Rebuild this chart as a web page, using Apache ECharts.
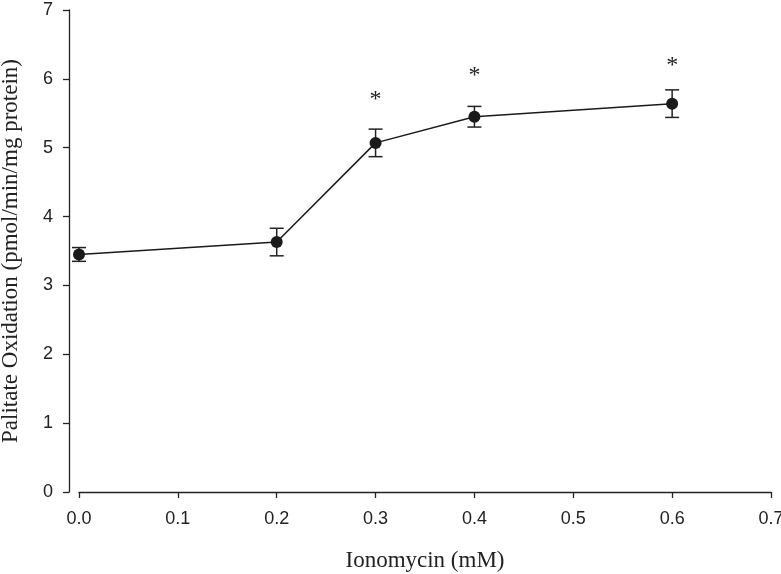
<!DOCTYPE html>
<html><head><meta charset="utf-8">
<script src="https://cdn.jsdelivr.net/npm/echarts@6/dist/echarts.min.js"></script>
<style>html,body{margin:0;padding:0;background:#fff}#c{width:781px;height:574px}</style>
</head><body><div id="c"></div>
<script>
var xValues = [0.0, 0.2, 0.3, 0.4, 0.6];
var meanValues = [3.45, 3.63, 5.07, 5.45, 5.64];
var errValues = [0.1, 0.2, 0.2, 0.15, 0.2];
var starX = [0.3, 0.4, 0.6];
var starY = [5.70, 6.05, 6.19];
var xTicks = ['0.0','0.1','0.2','0.3','0.4','0.5','0.6','0.7'];

var lineData = xValues.map(function(x,i){return [x, meanValues[i]];});
var errData = xValues.map(function(x,i){return [x, meanValues[i]-errValues[i], meanValues[i]+errValues[i]];});
var starData = starX.map(function(x,i){return [x, starY[i]];});

var chart = echarts.init(document.getElementById('c'), null, {renderer:'canvas'});
var sans = 'Liberation Sans';
var serif = 'Liberation Serif';
chart.setOption({
  animation:false,
  backgroundColor:'#fff',
  grid:{left:79, right:10, top:10, bottom:82, containLabel:false, outerBoundsMode:'none'},
  xAxis:{type:'value', min:0, max:0.7, interval:0.1,
    name:'Ionomycin (mM)', nameLocation:'middle', nameGap:57, nameMoveOverlap:false,
    nameTextStyle:{fontFamily:serif, fontSize:23, color:'#222'},
    axisLine:{show:true, onZero:false, lineStyle:{color:'#222', width:1.3}},
    axisTick:{show:true, length:6, lineStyle:{color:'#222', width:1.3}},
    axisLabel:{fontFamily:sans, fontSize:18, color:'#222', margin:18,
      formatter:function(v){return xTicks[Math.round(v*10)];}},
    splitLine:{show:false}},
  yAxis:{type:'value', min:0, max:7, interval:1, offset:10,
    name:'Palitate Oxidation (pmol/min/mg protein)', nameLocation:'middle', nameGap:47, nameMoveOverlap:false,
    nameTextStyle:{fontFamily:serif, fontSize:23, color:'#222'},
    axisLine:{show:true, onZero:false, lineStyle:{color:'#222', width:1.3}},
    axisTick:{show:true, length:6, lineStyle:{color:'#222', width:1.3}},
    axisLabel:{fontFamily:sans, fontSize:18, color:'#222', margin:16},
    splitLine:{show:false}},
  series:[
    {type:'custom', data:errData, z:3,
     renderItem:function(params, api){
       var x=api.value(0), lo=api.value(1), hi=api.value(2);
       var pLo=api.coord([x,lo]), pHi=api.coord([x,hi]);
       var w=7;
       var st={stroke:'#222', lineWidth:1.5};
       return {type:'group', children:[
         {type:'line', shape:{x1:pLo[0],y1:pLo[1],x2:pHi[0],y2:pHi[1]}, style:st},
         {type:'line', shape:{x1:pLo[0]-w,y1:pLo[1],x2:pLo[0]+w,y2:pLo[1]}, style:st},
         {type:'line', shape:{x1:pHi[0]-w,y1:pHi[1],x2:pHi[0]+w,y2:pHi[1]}, style:st}
       ]};
     }},
    {type:'line', data:lineData, z:4, symbol:'circle', symbolSize:12,
     lineStyle:{color:'#1a1a1a', width:1.5},
     itemStyle:{color:'#1a1a1a', borderWidth:0}},
    {type:'custom', data:starData, z:5,
     renderItem:function(params, api){
       var p=api.coord([api.value(0), api.value(1)]);
       return {type:'text', style:{text:'*', x:p[0], y:p[1], align:'center', verticalAlign:'middle',
         font:'24px "Liberation Serif"', fill:'#222'}};
     }}
  ]
});
</script></body></html>
